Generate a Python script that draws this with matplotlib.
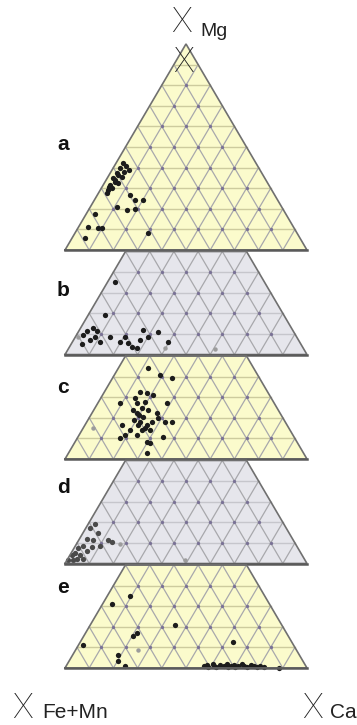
import numpy as np
import matplotlib.pyplot as plt

SQ = np.sqrt(3) / 2

# garnet compositions, one set per panel: X_Mg and X_Ca (X_Fe+Mn = 1 - Mg - Ca)
mg_a = [0.422, 0.398, 0.374, 0.350, 0.316, 0.291, 0.277, 0.388, 0.354, 0.325,
        0.408, 0.330, 0.301, 0.379, 0.267, 0.243, 0.243, 0.209, 0.194, 0.199,
        0.175, 0.112, 0.107, 0.107, 0.058, 0.083, 0.362, 0.340, 0.305]
ca_a = [0.029, 0.028, 0.028, 0.023, 0.028, 0.032, 0.035, 0.070, 0.059, 0.056,
        0.048, 0.042, 0.044, 0.054, 0.135, 0.168, 0.201, 0.110, 0.159, 0.190,
        0.036, 0.039, 0.083, 0.100, 0.054, 0.302, 0.040, 0.035, 0.030]

mg_b = [0.354, 0.194, 0.097, 0.112, 0.131, 0.112, 0.083, 0.063, 0.049, 0.073,
        0.083, 0.063, 0.087, 0.058, 0.039, 0.034, 0.121, 0.087, 0.107, 0.063,
        0.073]
ca_b = [0.030, 0.068, 0.026, 0.035, 0.050, 0.076, 0.083, 0.113, 0.046, 0.067,
        0.145, 0.196, 0.204, 0.231, 0.258, 0.281, 0.262, 0.300, 0.331, 0.394,
        0.273]
mg_b_faint = [0.034, 0.029, 0.083]
ca_b_faint = [0.396, 0.605, 0.012]

mg_c = [0.325, 0.320, 0.311, 0.272, 0.272, 0.272, 0.248, 0.223, 0.238, 0.204,
        0.180, 0.165, 0.223, 0.199, 0.180, 0.165, 0.180, 0.180, 0.165, 0.141,
        0.141, 0.141, 0.102, 0.117, 0.117, 0.107, 0.083, 0.078, 0.029, 0.442,
        0.408, 0.393, 0.296, 0.277, 0.214, 0.238, 0.189, 0.150]
ca_c = [0.148, 0.179, 0.208, 0.285, 0.091, 0.162, 0.194, 0.186, 0.162, 0.220,
        0.220, 0.219, 0.268, 0.285, 0.270, 0.256, 0.323, 0.352, 0.153, 0.199,
        0.248, 0.281, 0.176, 0.190, 0.240, 0.352, 0.297, 0.312, 0.324, 0.122,
        0.189, 0.246, 0.141, 0.192, 0.199, 0.224, 0.191, 0.256]
mg_c_faint = [0.150]
ca_c_faint = [0.041]

mg_d = [0.194, 0.170, 0.146, 0.121, 0.112, 0.087, 0.073, 0.053, 0.039, 0.019,
        0.039, 0.024, 0.063, 0.078, 0.112, 0.102, 0.087, 0.015, 0.024]
ca_d = [0.027, 0.018, 0.063, 0.031, 0.060, 0.031, 0.017, 0.015, 0.010, 0.003,
        0.043, 0.038, 0.060, 0.073, 0.122, 0.143, 0.101, 0.026, 0.062]
mg_d_faint = [0.097, 0.015]
ca_d_faint = [0.179, 0.488]

mg_e = [0.350, 0.311, 0.209, 0.170, 0.155, 0.126, 0.112, 0.063, 0.034, 0.010,
        0.010, 0.015, 0.005, 0.020, 0.010, 0.005, 0.015, 0.010, 0.020, 0.005,
        0.010, 0.015, 0.005, 0.010, 0.020, 0.010, 0.005, 0.015, 0.010, 0.005,
        0.010, 0.005, 0.000]
ca_e = [0.094, 0.039, 0.350, 0.213, 0.203, 0.631, 0.018, 0.188, 0.202, 0.243,
        0.570, 0.580, 0.590, 0.600, 0.610, 0.620, 0.635, 0.650, 0.660, 0.670,
        0.680, 0.690, 0.700, 0.710, 0.720, 0.735, 0.750, 0.760, 0.775, 0.790,
        0.800, 0.820, 0.886]
mg_e_faint = [0.087]
ca_e_faint = [0.258]

labels = ['a', 'b', 'c', 'd', 'e']
mg_sets = [mg_a, mg_b, mg_c, mg_d, mg_e]
ca_sets = [ca_a, ca_b, ca_c, ca_d, ca_e]
mg_faint = [[], mg_b_faint, mg_c_faint, mg_d_faint, mg_e_faint]
ca_faint = [[], ca_b_faint, ca_c_faint, ca_d_faint, ca_e_faint]
mg_top = [1.0, 0.5, 0.5, 0.5, 0.5]

offsets = [1.756, 1.317, 0.878, 0.439, 0.0]
fills = ['#fbfbcc', '#e6e6ec', '#fbfbcc', '#e6e6ec', '#fbfbcc']
hcols = ['#cdcb9e', '#c6c6cc', '#cdcb9e', '#c6c6cc', '#cdcb9e']
dot_cols = ['#1c1c1c', '#1c1c1c', '#1c1c1c', '#4a4a4a', '#1c1c1c']
label_y = [2.176, 1.563, 1.155, 0.735, 0.315]


def to_xy(mg, ca, y0):
    mg = np.asarray(mg, dtype=float)
    ca = np.asarray(ca, dtype=float)
    return ca + mg / 2, y0 + mg * SQ


def draw_panel(ax, y0, top, fill, hcol):
    mg_c = [0, 0, top, top]
    ca_c = [0, 1, 1 - top, 0]
    x, y = to_xy(mg_c, ca_c, y0)
    ax.fill(x, y, color=fill, zorder=1, lw=0)

    diag = '#a8a8ac'
    for k in range(1, 10):
        m = k / 10
        if m < top - 1e-9:
            x, y = to_xy([m, m], [0, 1 - m], y0)
            ax.plot(x, y, color=hcol, lw=1.0, zorder=2)
        c = k / 10
        m1 = min(1 - c, top)
        x, y = to_xy([0, m1], [c, c], y0)
        ax.plot(x, y, color=diag, lw=0.9, zorder=2)
        f = k / 10
        m1 = min(1 - f, top)
        x, y = to_xy([0, m1], [1 - f, 1 - f - m1], y0)
        ax.plot(x, y, color=diag, lw=0.9, zorder=2)

    vm, vc = [], []
    for i in range(1, 10):
        for j in range(1, 10 - i):
            if i / 10 < top - 1e-9:
                vm.append(i / 10)
                vc.append(j / 10)
    x, y = to_xy(vm, vc, y0)
    ax.plot(x, y, 'o', ms=2.4, color='#7a7296', mec='none', zorder=3)

    x, y = to_xy(mg_c + [0], ca_c + [0], y0)
    ax.plot(x, y, color='#707070', lw=1.2, zorder=5, solid_joinstyle='miter')
    x, y = to_xy([0, 0], [0, 1], y0)
    ax.plot(x, y, color='#5a5a5a', lw=1.8, zorder=5)


fig = plt.figure(figsize=(3.57, 7.25), dpi=100)
ax = fig.add_axes([0, 0, 1, 1])
ax.set_xlim(-65 / 242, 292 / 242)
ax.set_ylim(-57 / 238, 668 / 238)
ax.axis('off')

for i in range(5):
    y0 = offsets[i]
    draw_panel(ax, y0, mg_top[i], fills[i], hcols[i])
    if mg_faint[i]:
        x, y = to_xy(mg_faint[i], ca_faint[i], y0)
        ax.plot(x, y, 'o', ms=3.2, color='#9c9c9c', mec='none', zorder=4)
    x, y = to_xy(mg_sets[i], ca_sets[i], y0)
    ax.plot(x, y, 'o', ms=3.8, color=dot_cols[i], mec='none', zorder=4)
    ax.text(-0.033, label_y[i], labels[i], fontsize=15, fontweight='bold',
            family='Liberation Sans', ha='left', va='baseline', color='#111111')

xfont = dict(family=['Roboto', 'DejaVu Sans'], fontweight='light', fontsize=25,
             color='#222222', ha='center', va='center')
sfont = dict(family='Liberation Sans', color='#222222', ha='left', va='center')

ax.text(0.483, 2.714, 'X', **xfont)
ax.text(0.558, 2.676, 'Mg', fontsize=14, **sfont)
ax.text(0.488, 2.545, 'X', zorder=6, **xfont)
ax.text(-0.174, -0.168, 'X', **xfont)
ax.text(-0.095, -0.189, 'Fe+Mn', fontsize=15, **sfont)
ax.text(1.021, -0.168, 'X', **xfont)
ax.text(1.095, -0.189, 'Ca', fontsize=15, **sfont)

fig.savefig('out.png', dpi=100)
